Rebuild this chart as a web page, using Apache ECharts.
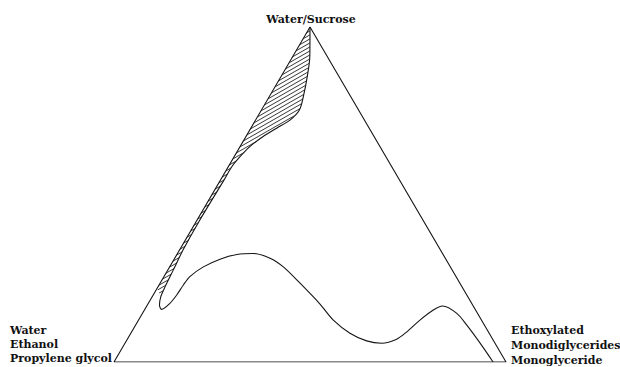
<!DOCTYPE html>
<html>
<head>
<meta charset="utf-8">
<script src="https://cdn.jsdelivr.net/npm/echarts@6/dist/echarts.min.js"></script>
<style>
html,body{margin:0;padding:0;background:#fff;}
#chart{width:620px;height:367px;}
</style>
</head>
<body>
<div id="chart"></div>
<script>
// ---- Data (ternary compositions, %: emulsifier = bottom-right vertex, sucrose = apex) ----
const topLabel = ['Water/Sucrose'];
const leftLabel = ['Water', 'Ethanol', 'Propylene glycol'];
const rightLabel = ['Ethoxylated', 'Monodiglycerides', 'Monoglyceride'];

// triangle vertices: left, right, apex
const vertexEmulsifier = [0, 100, 0];
const vertexSucrose = [0, 0, 100];

// phase boundary curve (from base on the right, round the hump, down to the tip, up to the apex)
const boundaryEmulsifier = [96.7, 90.5, 84.5, 80.2, 75.5, 73.7, 71.8, 70.2, 68.7, 65.5, 61.3, 55.9, 49.7, 43.9, 35.6, 29.0, 24.3, 19.3, 15.3, 11.7, 8.6, 6.6, 6.2, 6.0, 5.5, 4.3, 3.1, 2.2, 1.8, 1.4, 0.9, 0.7, 0.9, 0.9, 1.5, 2.5, 4.4, 6.6, 8.8, 9.7, 8.7, 6.7, 4.4, 0];
const boundarySucrose   = [0, 5.7, 11.0, 14.5, 16.7, 15.5, 12.5, 9.0, 6.8, 5.6, 6.3, 8.6, 12.5, 17.3, 23.6, 28.4, 31.0, 32.4, 32.1, 30.7, 28.4, 25.5, 23.0, 20.0, 17.5, 15.7, 17.0, 19.5, 22.5, 27.5, 33.4, 42.4, 54.3, 58.3, 61.3, 64.3, 67.3, 69.8, 72.2, 75.2, 79.2, 85.2, 91.1, 100];

// hatched region: along left edge, bounded by the curve (index from) and the edge
const hatchStartIndex = 27;
const hatchEdgeSucrose = [100, 22];

// ternary -> cartesian (x along base, y = height fraction)
function tern(e, s) { return [(e + s / 2) / 100, s / 100]; }

const triangleData = [0, 1, 2, 0].map(i => tern(vertexEmulsifier[i], vertexSucrose[i]));
const boundaryData = boundaryEmulsifier.map((e, i) => tern(e, boundarySucrose[i]));
const hatchData = boundaryData.slice(hatchStartIndex).concat(hatchEdgeSucrose.map(s => tern(0, s)));

// hatch pattern
const pc = document.createElement('canvas');
pc.width = 7; pc.height = 4;
const g = pc.getContext('2d');
g.strokeStyle = '#222';
g.lineWidth = 0.9;
g.beginPath();
g.moveTo(-7, 8); g.lineTo(14, -4);
g.moveTo(-14, 8); g.lineTo(7, -4);
g.moveTo(0, 8); g.lineTo(21, -4);
g.stroke();
const patternURL = pc.toDataURL();

const chart = echarts.init(document.getElementById('chart'), null, { renderer: 'svg' });
const font = 'bold 11px "DejaVu Serif"';
function label(text, x, y, align) {
  return { type: 'text', x: x, y: y, silent: true,
    style: { text: text, font: font, fill: '#111', align: align, textAlign: align, verticalAlign: 'middle', textVerticalAlign: 'middle' } };
}

chart.setOption({
  animation: false,
  backgroundColor: '#fff',
  grid: { left: 114, right: 114, top: 27, bottom: 5 },
  xAxis: { type: 'value', min: 0, max: 1, show: false },
  yAxis: { type: 'value', min: 0, max: 1, show: false },
  series: [
    {
      type: 'custom',
      data: [0],
      silent: true,
      renderItem: function (params, api) {
        const pts = hatchData.map(p => api.coord(p));
        return { type: 'polygon', shape: { points: pts },
          style: { fill: { image: patternURL, repeat: 'repeat' }, stroke: null } };
      },
      z: 1
    },
    {
      type: 'line', data: triangleData, showSymbol: false, symbol: 'none', silent: true,
      lineStyle: { color: '#151515', width: 1.1 }, z: 3
    },
    {
      type: 'line', data: boundaryData, showSymbol: false, symbol: 'none', silent: true, smooth: 0.3,
      lineStyle: { color: '#151515', width: 1.1 }, z: 3
    }
  ],
  graphic: [
    label(topLabel[0], 311, 19, 'center'),
    label(leftLabel[0], 10, 330, 'left'),
    label(leftLabel[1], 10, 344, 'left'),
    label(leftLabel[2], 10, 358, 'left'),
    label(rightLabel[0], 511, 330, 'left'),
    label(rightLabel[1], 511, 345, 'left'),
    label(rightLabel[2], 511, 360, 'left')
  ]
});
</script>
</body>
</html>
